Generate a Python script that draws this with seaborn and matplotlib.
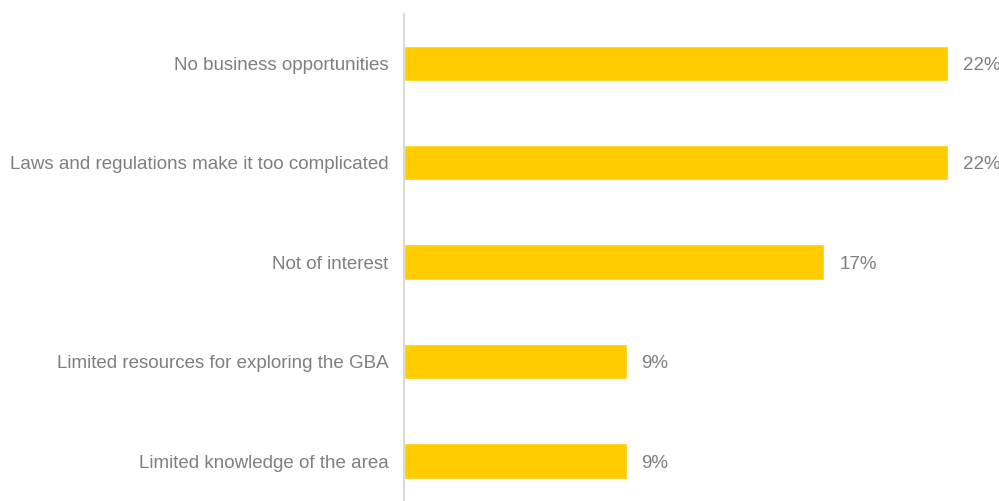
import matplotlib
matplotlib.use("Agg")
import matplotlib.pyplot as plt
import seaborn as sns
import pandas as pd

# ==============================================================
# DATA
# ==============================================================
categories = [
    "No business opportunities",
    "Laws and regulations make it too complicated",
    "Not of interest",
    "Limited resources for exploring the GBA",
    "Limited knowledge of the area",
]
shares = [22, 22, 17, 9, 9]
value_labels = ["22%", "22%", "17%", "9%", "9%"]

df = pd.DataFrame({"reason": categories, "share": shares})

# ==============================================================
# PLOT
# ==============================================================
sns.set_style("white")
plt.rcParams["font.family"] = ["Liberation Sans", "DejaVu Sans"]

TEXT_GREY = "#7f7f7f"
BAR_YELLOW = "#FFCC00"

fig = plt.figure(figsize=(9.99, 5.01), dpi=100)
ax = fig.add_axes([404 / 999, 0.0, 1 - 404 / 999, 1 - 13.5 / 501])

sns.barplot(data=df, x="share", y="reason", color=BAR_YELLOW,
            width=0.355, orient="h", ax=ax, saturation=1)

# scale: 22% bar ends at ~948px, axis at 404px
px_per_unit = (948 - 404) / 22
ax.set_xlim(0, (999 - 404) / px_per_unit)
ax.set_ylim(4 + (501 - 461) / 99.5, -0.5)

for i, (v, lab) in enumerate(zip(shares, value_labels)):
    ax.annotate(lab, xy=(v, i), xytext=(15, 0), textcoords="offset pixels",
                ha="left", va="center_baseline", fontsize=13.5, color=TEXT_GREY,
                annotation_clip=False)

ax.set_xlabel("")
ax.set_ylabel("")
ax.set_xticks([])
ax.tick_params(axis="y", length=0, pad=11, labelsize=13.5, labelcolor=TEXT_GREY)
for t in ax.get_yticklabels():
    t.set_verticalalignment("center_baseline")

for side in ["top", "right", "bottom"]:
    ax.spines[side].set_visible(False)
ax.spines["left"].set_color("#d9d9d9")
ax.spines["left"].set_linewidth(1.5)

fig.savefig("out.png", dpi=100)
